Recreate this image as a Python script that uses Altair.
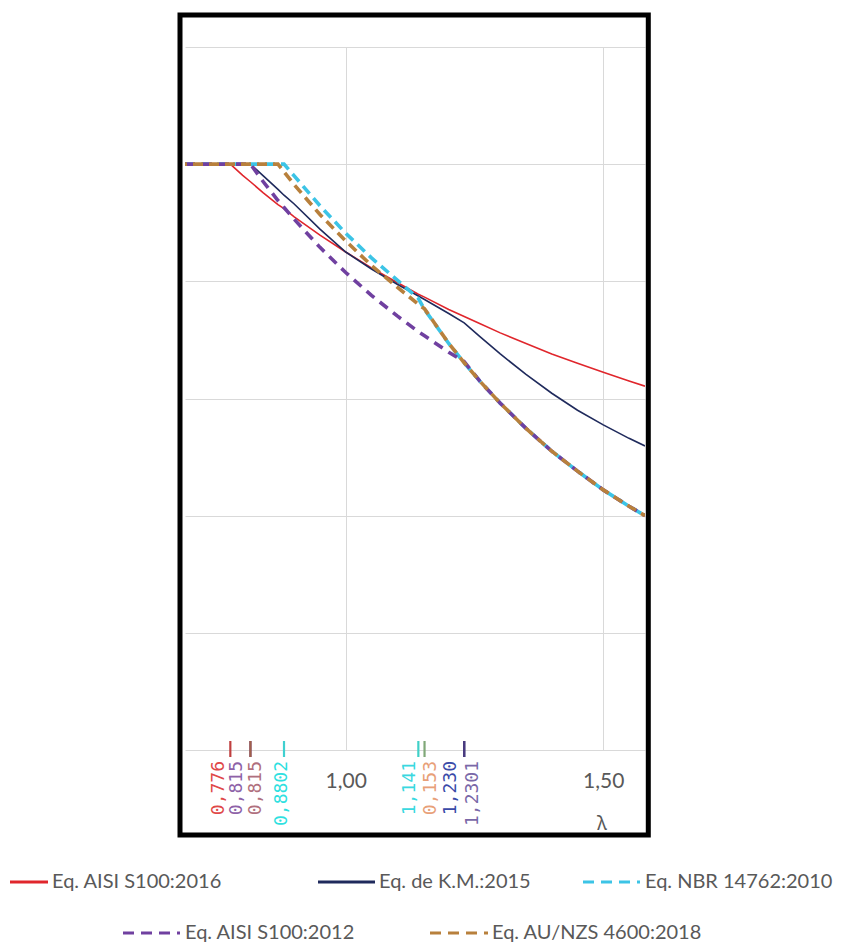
import altair as alt
import pandas as pd

# ---- data ----
lam = [0.688, 0.75, 0.776, 0.80, 0.815, 0.84, 0.8685, 0.8802, 0.90, 0.95, 1.00, 1.05,
       1.10, 1.141, 1.153, 1.20, 1.23, 1.26, 1.30, 1.35, 1.40, 1.45, 1.50, 1.55, 1.581]

aisi2016 = [1.000, 1.000, 1.000, 0.981, 0.970, 0.951, 0.931, 0.924, 0.910, 0.879, 0.850, 0.823,
            0.798, 0.778, 0.773, 0.752, 0.740, 0.728, 0.712, 0.694, 0.676, 0.660, 0.645, 0.630, 0.621]
km2015 = [1.000, 1.000, 1.000, 1.000, 1.000, 0.980, 0.957, 0.947, 0.932, 0.889, 0.850, 0.821,
          0.795, 0.775, 0.769, 0.745, 0.729, 0.706, 0.676, 0.641, 0.609, 0.580, 0.555, 0.532, 0.519]
nbr2010 = [1.000, 1.000, 1.000, 1.000, 1.000, 1.000, 1.000, 1.000, 0.980, 0.929, 0.882, 0.840,
           0.802, 0.771, 0.752, 0.694, 0.661, 0.630, 0.592, 0.549, 0.510, 0.476, 0.444, 0.416, 0.400]
aisi2012 = [1.000, 1.000, 1.000, 1.000, 1.000, 0.970, 0.938, 0.926, 0.906, 0.858, 0.815, 0.776,
            0.741, 0.714, 0.707, 0.679, 0.663, 0.630, 0.592, 0.549, 0.510, 0.476, 0.444, 0.416, 0.400]
aunzs2018 = [1.000, 1.000, 1.000, 1.000, 1.000, 1.000, 1.000, 0.987, 0.965, 0.914, 0.869, 0.827,
             0.790, 0.761, 0.753, 0.694, 0.661, 0.630, 0.592, 0.549, 0.510, 0.476, 0.444, 0.416, 0.400]

series_names = ["Eq. AISI S100:2016", "Eq. de K.M.:2015", "Eq. NBR 14762:2010",
                "Eq. AISI S100:2012", "Eq. AU/NZS 4600:2018"]
series_values = [aisi2016, km2015, nbr2010, aisi2012, aunzs2018]

limit_values = [0.776, 0.815, 0.815, 0.8802, 1.141, 1.153, 1.230, 1.2301]
limit_labels = ["0,776", "0,815", "0,815", "0,8802", "1,141", "0,153", "1,230", "1,2301"]

x_ticks = [1.0, 1.5]
y_grid = [0.0, 0.2, 0.4, 0.6, 0.8, 1.0, 1.2]

# ---- styles ----
series_colors = ["#e0262c", "#1f2a5c", "#3cc4e6", "#7040a0", "#b8803c"]
series_widths = [1.6, 1.6, 3.6, 3.6, 3.6]
series_dash = [None, None, [10, 6], [10, 7], [10, 6]]
series_dashoff = [0, 0, 0, 0, 8]
tick_colors = ["#c04040", "#70408a", "#a0604a", "#3fd0d0", "#3fd0c8", "#80a878", "#2a2f6a", "#4a3a80"]
label_colors = ["#e04848", "#8e62a8", "#b0707e", "#2ee0e0", "#3ad8e0", "#e8a078", "#3a4aa8", "#7a68a8"]
label_dy = [-11, -13, 6, -2, -8, 6, -13, 9]

W, H = 460, 703
PAD_L, PAD_T = 185, 47

rows = []
for name, vals in zip(series_names, series_values):
    for l, v in zip(lam, vals):
        rows.append({"series": name, "lam": l, "chi": v})
df = pd.DataFrame(rows)

xscale = alt.Scale(domain=[0.688, 1.581], nice=False, zero=False)
yscale = alt.Scale(domain=[0, 1.2], nice=False, zero=True)

xenc = alt.X("lam:Q", scale=xscale,
             axis=alt.Axis(values=x_ticks, grid=True, gridColor="#d9d9d9", gridWidth=1,
                           ticks=False, domain=False,
                           labelExpr="replace(format(datum.value, '.2f'), '.', ',')",
                           labelFont="Lato", labelFontSize=21, labelColor="#595959",
                           labelPadding=20,
                           title="λ", titleFont="Noto Sans", titleFontSize=19,
                           titleFontWeight="normal", titleColor="#595959",
                           titleX=416.5, titleY=73, titleBaseline="middle",
                           titleAlign="center"))
yenc = alt.Y("chi:Q", scale=yscale,
             axis=alt.Axis(values=y_grid, grid=True, gridColor="#d9d9d9", gridWidth=1,
                           labels=False, ticks=False, domain=False, title=None))

layers = []
for i, name in enumerate(series_names):
    kw = dict(color=series_colors[i], strokeWidth=series_widths[i], clip=True)
    if series_dash[i]:
        kw["strokeDash"] = series_dash[i]
        kw["strokeDashOffset"] = series_dashoff[i]
    layers.append(
        alt.Chart(df).transform_filter(alt.datum.series == name)
        .mark_line(**kw).encode(x=xenc, y=yenc)
    )

# small limit marks on the baseline
tick_df = pd.DataFrame({"lam": limit_values, "c": tick_colors})
layers.append(
    alt.Chart(tick_df).mark_rule(strokeWidth=2.2).encode(
        x=xenc, y=alt.value(694), y2=alt.value(710),
        color=alt.Color("c:N", scale=None))
)

# rotated limit labels
for v, t, c, d in zip(limit_values, limit_labels, label_colors, label_dy):
    layers.append(
        alt.Chart(pd.DataFrame({"lam": [v]})).mark_text(
            angle=270, align="right", baseline="middle", dy=d,
            font="DejaVu Sans Mono", fontSize=18, color=c, text=t
        ).encode(x=xenc, y=alt.value(714))
    )

one = pd.DataFrame({"k": [0]})

# frame
layers.append(
    alt.Chart(one).mark_rect(fillOpacity=0, fill="white", stroke="black", strokeWidth=5).encode(
        x=alt.value(-5), x2=alt.value(463.3), y=alt.value(-32), y2=alt.value(788))
)

# legend
leg_pos = [(-175, -137, -133, 835), (133, 190, 194, 835), (398, 455, 460, 835),
           (-62, -5, 0, 886), (245, 303, 307, 886)]
for i, name in enumerate(series_names):
    x1, x2, tx, ty = leg_pos[i]
    kw = dict(color=series_colors[i], strokeWidth=3.2)
    if series_dash[i]:
        kw["strokeDash"] = [11, 7]
    layers.append(
        alt.Chart(one).mark_rule(**kw).encode(
            x=alt.value(x1), x2=alt.value(x2), y=alt.value(ty))
    )
    layers.append(
        alt.Chart(one).mark_text(align="left", baseline="middle", font="Lato",
                                 fontSize=20, color="#595959", text=name).encode(
            x=alt.value(tx), y=alt.value(ty))
    )

chart = alt.layer(*layers).properties(
    width=W, height=H,
    autosize=alt.AutoSizeParams(type="none"),
    padding={"left": PAD_L, "top": PAD_T, "right": 863 - PAD_L - W, "bottom": 951 - PAD_T - H},
    background="white",
).configure_view(stroke=None)

chart.save("out.html", embed_options={"renderer": "svg", "actions": False})
